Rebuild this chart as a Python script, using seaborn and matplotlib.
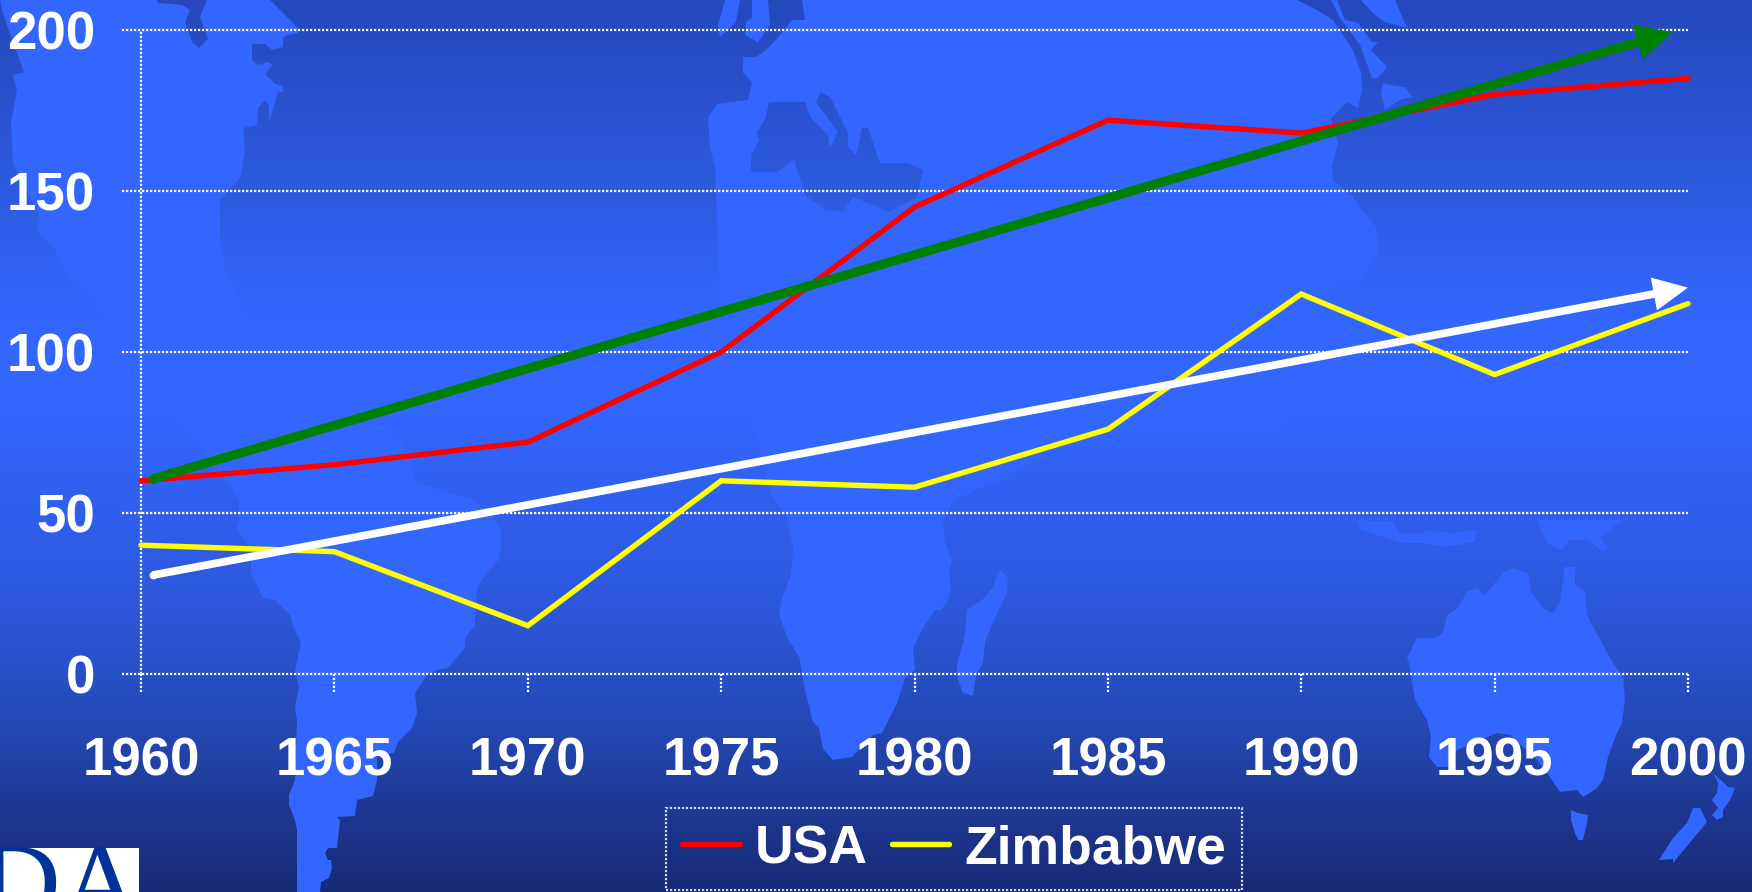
import numpy as np
import pandas as pd
import seaborn as sns
import matplotlib.pyplot as plt
from matplotlib.colors import LinearSegmentedColormap
from matplotlib.patches import Polygon, Rectangle

years = [1960, 1965, 1970, 1975, 1980, 1985, 1990, 1995, 2000]
usa = [60, 65, 72, 100, 145, 172, 168, 180, 185]
zimbabwe = [40, 38, 15, 60, 58, 76, 118, 93, 115]
y_ticks = [0, 50, 100, 150, 200]

# trend arrows, (start, tip)
green_x = [1960.3, 1999.6]
green_y = [60.6, 199.4]
white_x = [1960.3, 2000]
white_y = [30.7, 120]

# background gradient, pixel row from the top and colour
grad_rows = [0, 100, 200, 250, 320, 420, 500, 600, 674, 760, 820, 892]
grad_cols = ['#2549bd', '#2a52cf', '#2d5be0', '#3062f2', '#3366ff', '#3366ff', '#2f60ef',
             '#2d58dc', '#2850c8', '#2142a6', '#1d368f', '#172a74']
land_col = '#3366ff'

# world map behind the chart, in pixels of the picture
americas = [(0, 0), (270, 0), (285, 15), (298, 28), (298, 33), (287, 35), (283, 38), (283, 47), (272, 50),
            (265, 44), (252, 44), (252, 60), (258, 65), (268, 62), (273, 65), (265, 74), (275, 84), (283, 86),
            (283, 92), (278, 92), (269, 122), (269, 105), (265, 100), (258, 108), (257, 125), (243, 128),
            (245, 150), (240, 178), (220, 200), (220, 240), (225, 270), (260, 340), (387, 425), (403, 443),
            (415, 470), (415, 482), (473, 500), (490, 512), (501, 530), (501, 547), (497, 562), (487, 572),
            (477, 588), (475, 625), (465, 638), (465, 648), (448, 668), (437, 670), (427, 675), (415, 693),
            (417, 713), (412, 728), (398, 742), (394, 753), (377, 755), (377, 780), (373, 796), (357, 800),
            (355, 816), (337, 817), (340, 820), (337, 848), (328, 848), (325, 853), (328, 860), (331, 860),
            (332, 868), (329, 878), (321, 882), (320, 892), (297, 892), (297, 830), (295, 820), (289, 805),
            (289, 795), (295, 780), (297, 720), (295, 707), (299, 687), (295, 670), (301, 643), (292, 623),
            (290, 615), (275, 600), (263, 598), (251, 573), (251, 550), (236, 528), (239, 523), (239, 503),
            (233, 490), (160, 400), (90, 300), (68, 277), (53, 247), (37, 230), (40, 217), (13, 163),
            (11, 123), (17, 90), (13, 75), (24, 72), (6, 23), (2, 10)]
eurafrica = [(802, 0), (1297, 0), (1317, 10), (1333, 20), (1353, 50), (1361, 73), (1362, 90), (1358, 108),
             (1347, 102), (1331, 118), (1338, 143), (1332, 167), (1333, 180), (1353, 197), (1376, 227),
             (1379, 253), (1363, 277), (1330, 290), (1280, 430), (1100, 430), (955, 500), (943, 520),
             (945, 543), (952, 560), (949, 572), (951, 587), (948, 600), (941, 610), (935, 610), (923, 628),
             (913, 648), (915, 670), (905, 678), (897, 703), (882, 733), (873, 735), (852, 757), (833, 760),
             (823, 749), (819, 728), (813, 722), (805, 690), (799, 656), (787, 638), (779, 613), (782, 598),
             (791, 575), (793, 547), (785, 513), (773, 500), (720, 300), (715, 168), (710, 147), (708, 118),
             (717, 104), (748, 100), (752, 82), (743, 73), (743, 57), (756, 57), (766, 50), (776, 40),
             (792, 20), (805, 20)]
madagascar = [(967, 610), (983, 599), (993, 587), (997, 575), (1001, 571), (1008, 578), (1007, 593),
              (993, 622), (985, 642), (983, 662), (976, 675), (973, 696), (963, 693), (957, 677),
              (957, 665), (965, 635)]
australia = [(1407, 658), (1417, 638), (1435, 638), (1443, 633), (1447, 615), (1457, 609), (1467, 592),
             (1476, 588), (1485, 595), (1503, 573), (1513, 568), (1528, 573), (1531, 592), (1543, 608),
             (1553, 613), (1560, 602), (1565, 567), (1575, 567), (1575, 585), (1585, 592), (1587, 615),
             (1603, 645), (1613, 663), (1623, 677), (1625, 700), (1622, 723), (1617, 733), (1608, 757),
             (1603, 780), (1597, 788), (1583, 797), (1577, 790), (1560, 792), (1550, 777), (1537, 760),
             (1510, 735), (1497, 733), (1457, 750), (1447, 767), (1437, 767), (1429, 757), (1431, 737),
             (1427, 720), (1415, 700), (1409, 663)]
tasmania = [(1571, 810), (1578, 813), (1588, 815), (1587, 823), (1583, 840), (1578, 840), (1575, 833), (1571, 820)]
nz_north = [(1713, 773), (1723, 782), (1728, 787), (1735, 788), (1730, 800), (1723, 810), (1723, 817),
            (1717, 820), (1712, 815), (1718, 808), (1712, 800), (1717, 793), (1718, 783)]
nz_south = [(1693, 808), (1700, 808), (1707, 822), (1673, 863), (1673, 859), (1659, 860), (1673, 838), (1687, 823)]
sumatra = [(1357, 520), (1393, 522), (1400, 533), (1423, 533), (1425, 530), (1450, 533), (1477, 530),
           (1475, 542), (1447, 547), (1423, 543), (1402, 543), (1360, 530)]
new_guinea = [(1537, 520), (1623, 520), (1600, 537), (1608, 548), (1603, 552), (1588, 540), (1570, 540),
              (1562, 550), (1547, 543)]
kamchatka = [(1331, 0), (1337, 0), (1345, 20), (1358, 23), (1372, 42), (1378, 42), (1371, 50), (1387, 67),
             (1378, 78), (1372, 78), (1360, 45), (1340, 18)]
japan = [(1361, 0), (1395, 0), (1407, 28), (1385, 22), (1375, 15)]
philippines = [(1383, 83), (1390, 85), (1405, 87), (1412, 97), (1400, 100), (1385, 110), (1383, 100), (1381, 95)]
ireland = [(725, 0), (740, 0), (736, 22), (720, 37), (718, 25)]
britain = [(752, 0), (768, 0), (770, 25), (758, 42), (745, 35), (746, 22), (752, 18)]
lands = [americas, eurafrica, madagascar, australia, tasmania, nz_north, nz_south,
         sumatra, new_guinea, kamchatka, japan, philippines, ireland, britain]

# seas cut back out of the land
mediterranean = [(769, 102), (805, 102), (810, 117), (828, 135), (830, 148), (838, 132), (816, 102), (821, 92),
                 (830, 97), (848, 133), (848, 147), (856, 155), (862, 128), (868, 128), (880, 163), (908, 163),
                 (923, 170), (917, 197), (889, 212), (853, 197), (843, 212), (825, 210), (805, 195), (794, 160),
                 (777, 172), (751, 172), (751, 155), (759, 140), (757, 133), (766, 117)]
hudson = [(157, 0), (207, 0), (200, 17), (208, 39), (199, 48), (192, 42), (185, 22), (190, 10), (182, 5), (158, 3)]
seas = [mediterranean, hudson]

sns.set_theme(style='ticks')
plt.rcParams['font.family'] = ['Liberation Sans', 'DejaVu Sans']
plt.rcParams['font.weight'] = 'bold'

W, H = 1752, 892
fig = plt.figure(figsize=(W / 100, H / 100), dpi=100)

# background: gradient + map
bg = fig.add_axes([0, 0, 1, 1], zorder=-1)
stops = [(r / H, c) for r, c in zip(grad_rows, grad_cols)]
cmap = LinearSegmentedColormap.from_list('slide', stops, N=892)
grad = np.linspace(0, 1, H).reshape(-1, 1)
bg.imshow(grad, cmap=cmap, aspect='auto', extent=(0, W, H, 0), vmin=0, vmax=1, zorder=0)
for shape in lands:
    bg.add_patch(Polygon(shape, closed=True, fc=land_col, ec='none', zorder=1))
for shape in seas:
    sea = bg.imshow(grad, cmap=cmap, aspect='auto', extent=(0, W, H, 0), vmin=0, vmax=1, zorder=2)
    sea.set_clip_path(Polygon(shape, closed=True, transform=bg.transData))

# logo cut off in the corner
logo_box = Rectangle((0, 848), 139, 44, fc='white', ec='none', zorder=3)
bg.add_patch(logo_box)
logo = bg.text(142, 919, 'ADA', family='Liberation Serif', fontsize=80, weight='normal',
               color='#003399', ha='right', va='baseline', zorder=4)
logo.set_clip_path(logo_box)
bg.set_xlim(0, W)
bg.set_ylim(H, 0)
bg.axis('off')

ax = fig.add_axes([141 / W, 1 - 674 / H, (1688 - 141) / W, (674 - 30) / H])
ax.patch.set_alpha(0)

df = pd.DataFrame({
    'year': years * 2,
    'value': usa + zimbabwe,
    'country': ['USA'] * len(usa) + ['Zimbabwe'] * len(zimbabwe),
})
sns.lineplot(data=df, x='year', y='value', hue='country', palette={'USA': '#ff0000', 'Zimbabwe': '#ffff00'},
             linewidth=3.9, solid_capstyle='round', solid_joinstyle='miter', clip_on=False, zorder=4, ax=ax)

ax.set_xlim(1960, 2000)
ax.set_ylim(0, 200)
ax.set_xticks(years)
ax.set_yticks(y_ticks)
ax.set_xlabel('')
ax.set_ylabel('')
ax.tick_params(axis='x', length=0, pad=45, labelsize=38, labelcolor='white')
ax.tick_params(axis='y', length=0, pad=33, labelsize=38, labelcolor='white')

# dotted axes, grid and tick marks
dots = (0, (1, 0.8))
x_left = 1960 - 19 * 40 / 1547
y_low = -18 * 200 / 644
ax.hlines(y_ticks, x_left, 2000, color='white', lw=1.6, linestyle=dots, clip_on=False, zorder=2)
ax.vlines(years, y_low, 0, color='white', lw=1.6, linestyle=dots, clip_on=False, zorder=2)
ax.vlines([1960], 0, 200, color='white', lw=1.6, linestyle=dots, clip_on=False, zorder=2)
sns.despine(ax=ax, left=True, bottom=True)

# trend arrows
for tx, ty, col, tail, hw, hl in [(green_x, green_y, '#007f00', 6.6, 26, 26),
                                  (white_x, white_y, '#ffffff', 5.6, 24, 25)]:
    ax.annotate('', xy=(tx[1], ty[1]), xytext=(tx[0], ty[0]), annotation_clip=False,
                arrowprops=dict(arrowstyle=f'simple,tail_width={tail},head_width={hw},head_length={hl}',
                                mutation_scale=1, color=col, lw=0, shrinkA=0, shrinkB=0), zorder=5)
    ax.scatter(tx[:1], ty[:1], s=tail ** 2, color=col, linewidths=0, clip_on=False, zorder=5)

sns.move_legend(ax, 'center', bbox_to_anchor=(954 / W, 1 - 849 / H), bbox_transform=fig.transFigure,
                ncol=2, title=None, frameon=True, fontsize=38.5, labelcolor='white', handlelength=1.08,
                handletextpad=0.28, columnspacing=0.45, borderpad=0.29, borderaxespad=0)
leg = ax.get_legend()
frame = leg.get_frame()
frame.set_facecolor('none')
frame.set_edgecolor('white')
frame.set_linewidth(1.6)
frame.set_linestyle(dots)
frame.set_boxstyle('square', pad=0)

fig.savefig('out.png', dpi=100)
